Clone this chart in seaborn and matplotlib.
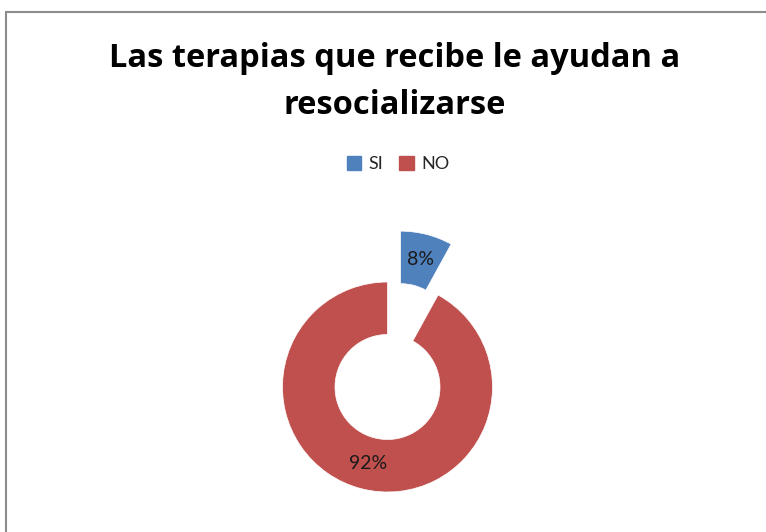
import matplotlib
matplotlib.use("Agg")
import matplotlib.pyplot as plt
import seaborn as sns
from matplotlib.lines import Line2D
from matplotlib.patches import Patch

# datos del gráfico
categorias = ["SI", "NO"]
porcentajes = [8, 92]
titulo = "Las terapias que recibe le ayudan a\nresocializarse"

sns.set_theme(style="white")
plt.rcParams['font.family'] = ['Lato', 'DejaVu Sans']

colores = ["#4F81BD", "#C0504D"]

W, H = 766, 532
fig = plt.figure(figsize=(W / 100, H / 100), dpi=100)

# marco del gráfico (sólo borde superior e izquierdo visibles)
fig.add_artist(Line2D([6 / W, 1], [1 - 12 / H, 1 - 12 / H], color="#8c8c8c", lw=1.5))
fig.add_artist(Line2D([6 / W, 6 / W], [0, 1 - 12 / H], color="#8c8c8c", lw=1.5))

# ejes del anillo: centro (387.5, 387) px, radio 105 px
cx, cy, r = 387.5, H - 387, 105
ax = fig.add_axes([(cx - 2 * r) / W, (cy - 1.3 * r) / H, 4 * r / W, 3.3 * r / H])
wedges, textos, autotextos = ax.pie(
    porcentajes, colors=colores, startangle=90, counterclock=False,
    explode=[0.5, 0], autopct='%1.0f%%', pctdistance=0.75,
    wedgeprops=dict(width=0.5, edgecolor="white", linewidth=0.5),
    textprops=dict(fontsize=14, color="#1a1a1a"))
ax.set_xlim(-2, 2)
ax.set_ylim(-1.3, 2)
ax.set_aspect('auto')
ax.axis('off')

fig.text(395 / W, 1 - 114 / H, titulo, ha="center", va="baseline",
         fontsize=23.5, fontweight="bold", linespacing=1.55, color="black",
         family=["Open Sans", "DejaVu Sans"])

handles = [Patch(facecolor=c, edgecolor=c) for c in colores]
fig.legend(handles, categorias, loc="center", bbox_to_anchor=(398 / W, 1 - 164 / H),
           ncol=2, frameon=False, fontsize=13, handlelength=0.8, handleheight=0.8,
           handletextpad=0.4, columnspacing=0.9)

fig.savefig("out.png", dpi=100)
